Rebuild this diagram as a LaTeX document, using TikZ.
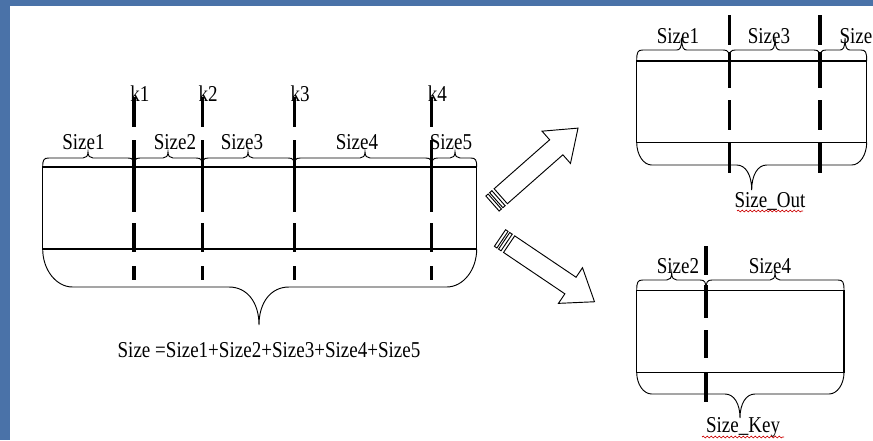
\documentclass[tikz,border=0pt]{standalone}
\usepackage{fontspec}
\setmainfont{Liberation Serif}[FakeStretch=0.84]
\usetikzlibrary{decorations.pathmorphing}

\definecolor{slideblue}{RGB}{74,114,168}

\tikzset{
	frame/.style={line width=0.9pt},
	brc/.style={line width=0.7pt},
	cutline/.style={line width=2.3pt},
	lbl/.style={font=\fontsize{17}{19}\selectfont, inner sep=0pt},
	fatarrow/.style={line width=0.7pt, fill=white},
	squiggle/.style={red!80!black, line width=0.5pt, decorate, decoration={snake, amplitude=0.7pt, segment length=3pt}}
}

% brace over a block: left x, right x, tip x, base y, line y, tip y
\newcommand{\upbrace}[6]{%
	\draw[brc] ({#1},{#4}) .. controls ({#1},{#5+2}) and ({#1+1},{#5}) .. ({#1+6},{#5})
		-- ({#3-5},{#5}) .. controls ({#3-2},{#5}) and ({#3},{#5-2}) .. ({#3},{#6})
		.. controls ({#3},{#5-2}) and ({#3+2},{#5}) .. ({#3+5},{#5})
		-- ({#2-6},{#5}) .. controls ({#2-1},{#5}) and ({#2},{#5+2}) .. ({#2},{#4});
}
% brace under a block: left x, right x, tip x, base y, line y, tip y, corner
\newcommand{\lowbrace}[7]{%
	\draw[brc] ({#1},{#4}) .. controls ({#1},{#4+0.55*(#5-#4)}) and ({#1+0.45*#7},{#5}) .. ({#1+#7},{#5})
		-- ({#3-#7},{#5}) .. controls ({#3-0.4*#7},{#5}) and ({#3},{#5+0.4*(#6-#5)}) .. ({#3},{#6})
		.. controls ({#3},{#5+0.4*(#6-#5)}) and ({#3+0.4*#7},{#5}) .. ({#3+#7},{#5})
		-- ({#2-#7},{#5}) .. controls ({#2-0.45*#7},{#5}) and ({#2},{#4+0.55*(#5-#4)}) .. ({#2},{#4});
}
% hollow striped arrow, drawn along x
\newcommand{\stripearrow}{%
	\draw[fatarrow] (0,-10) rectangle (3,10);
	\draw[fatarrow] (5,-10) rectangle (8,10);
	\draw[fatarrow] (11,-10) -- (85,-10) -- (85,-21.5) -- (114,0) -- (85,21.5) -- (85,10) -- (11,10) -- cycle;
}

\begin{document}
\begin{tikzpicture}[x=0.75pt, y=-0.75pt]
	% slide background
	\useasboundingbox (0,0) rectangle (873,440);
	\fill[slideblue] (0,0) rectangle (873,440);
	\fill[white] (10,6) rectangle (873,440);

	% whole block
	\draw[frame] (42.7,167) rectangle (476.7,249);
	\foreach \x in {134,202.3,294.3,431.7}
		\foreach \a/\b in {97/127,140/212,223/252,266/280}
			\draw[cutline] (\x,\a) -- (\x,\b);
	\upbrace{42.7}{134}{88}{167}{158}{152}
	\upbrace{134}{202.3}{168}{167}{158}{152}
	\upbrace{202.3}{294.3}{248}{167}{158}{152}
	\upbrace{294.3}{431.7}{365}{167}{158}{152}
	\upbrace{431.7}{476.7}{455}{167}{158}{152}
	\lowbrace{42.7}{476.7}{259}{249}{287}{325}{30}

	\node[lbl, anchor=base west] (k1) at (130,101) {k1};
	\node[lbl, anchor=base west] (k2) at (198.3,101) {k2};
	\node[lbl, anchor=base west] (k3) at (290.3,101) {k3};
	\node[lbl, anchor=base west] (k4) at (427.7,101) {k4};
	\node[lbl, anchor=base] (size1) at (83.5,149) {Size1};
	\node[lbl, anchor=base] (size2) at (175,149) {Size2};
	\node[lbl, anchor=base] (size3) at (242,149) {Size3};
	\node[lbl, anchor=base] (size4) at (357,149) {Size4};
	\node[lbl, anchor=base] (size5) at (451,149) {Size5};
	\node[lbl, anchor=base] (total) at (269,357) {Size =Size1+Size2+Size3+Size4+Size5};

	% arrows
	\begin{scope}[shift={(492.5,203.5)}, rotate=41.4]
		\stripearrow
	\end{scope}
	\begin{scope}[shift={(500,238)}, rotate=-34]
		\stripearrow
	\end{scope}

	% out block
	\draw[frame] (636.7,61) rectangle (866.7,142.3);
	\foreach \x in {729.3,820}
		\foreach \a/\b in {15/45,52/88,100/130,142/173}
			\draw[cutline] (\x,\a) -- (\x,\b);
	\upbrace{636.7}{729.3}{681.7}{61}{50}{38}
	\upbrace{729.3}{820}{775}{61}{50}{38}
	\upbrace{820}{866.7}{845}{61}{50}{38}
	\lowbrace{636.7}{866.7}{751.7}{142.3}{165}{190}{15}
	\node[lbl, anchor=base] (outsize1) at (678,43) {Size1};
	\node[lbl, anchor=base] (outsize3) at (769,43) {Size3};
	\node[lbl, anchor=base west] (outsize5) at (839.3,43) {Size};
	\node[lbl, anchor=base] (outname) at (770,207) {Size\_Out};
	\draw[squiggle] (737,211) -- (803,211);

	% key block
	\draw[frame] (636.7,290.7) rectangle (844,372.3);
	\foreach \a/\b in {246/275,285/318,330/358,372/402}
		\draw[cutline] (706,\a) -- (706,\b);
	\upbrace{636.7}{706}{671.7}{290.7}{280}{273}
	\upbrace{706}{844}{775}{290.7}{280}{273}
	\lowbrace{636.7}{844}{740}{372.3}{394}{418}{15}
	\node[lbl, anchor=base] (keysize2) at (678,273) {Size2};
	\node[lbl, anchor=base] (keysize4) at (770,273) {Size4};
	\node[lbl, anchor=base] (keyname) at (743,432) {Size\_Key};
	\draw[squiggle] (702,437) -- (784,437);
\end{tikzpicture}
\end{document}
